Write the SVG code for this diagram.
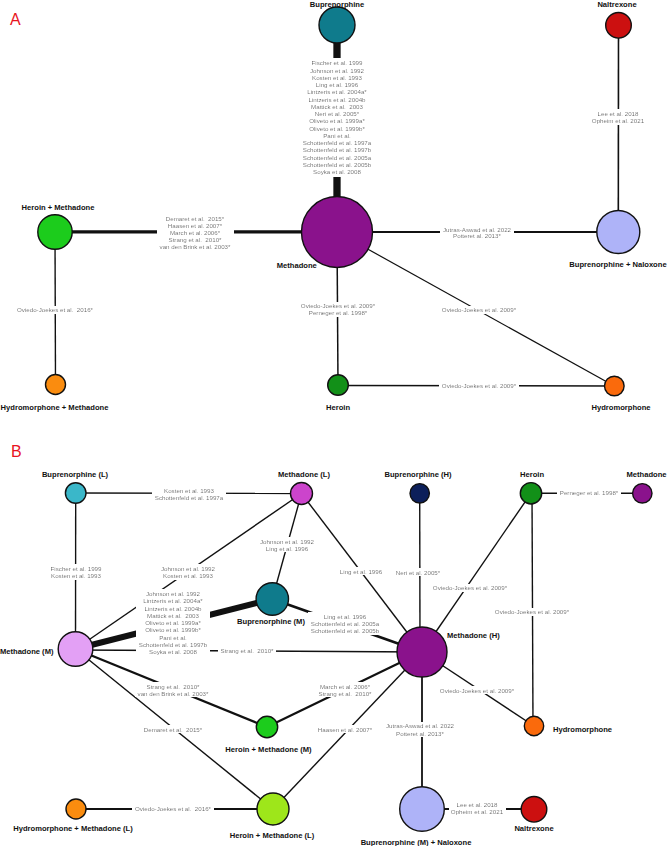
<svg xmlns="http://www.w3.org/2000/svg" width="667" height="846" viewBox="0 0 667 846">
<style>
.nl{font-family:"Liberation Sans",Arial,sans-serif;font-weight:bold;font-size:7.6px;fill:#111;text-anchor:middle}
.cl{font-family:"Liberation Sans",Arial,sans-serif;font-size:6.2px;fill:#000;text-anchor:middle;white-space:pre}
.pl{font-family:"Liberation Sans",Arial,sans-serif;font-size:16px;fill:#e8141e}
.n{stroke:#111;stroke-width:1.4}
#connectors line{stroke:#111;fill:none}
</style>
<defs>
<filter id="bg" x="-0.03" y="-0.01" width="1.06" height="1.02">
<feFlood flood-color="#ffffff"/>
<feMerge><feMergeNode/><feMergeNode in="SourceGraphic"/></feMerge>
</filter>
</defs>
<rect width="667" height="846" fill="#ffffff"/>
<text class="pl" x="10" y="25">A</text>
<text class="pl" x="11" y="457">B</text>

<g id="connectors">
<!-- Panel A -->
<line x1="337" y1="25" x2="337" y2="232" stroke-width="7.3"/>
<line x1="618.5" y1="25" x2="618.3" y2="232" stroke-width="1.6"/>
<line x1="55" y1="231.8" x2="337" y2="231.8" stroke-width="3.3"/>
<line x1="337" y1="232" x2="618.3" y2="232" stroke-width="2"/>
<line x1="55" y1="232" x2="55.5" y2="384.5" stroke-width="1.4"/>
<line x1="337" y1="232" x2="338" y2="385" stroke-width="1.5"/>
<line x1="337" y1="232" x2="614.3" y2="386" stroke-width="1.2"/>
<line x1="338" y1="385.5" x2="614.3" y2="386" stroke-width="1.4"/>
<!-- Panel B -->
<line x1="75.7" y1="493" x2="301.5" y2="493.5" stroke-width="1.4"/>
<line x1="75.7" y1="493" x2="75.5" y2="649" stroke-width="1.4"/>
<line x1="301.5" y1="493.5" x2="272.3" y2="599" stroke-width="1.4"/>
<line x1="301.5" y1="493.5" x2="75.5" y2="649" stroke-width="1.4"/>
<line x1="301.5" y1="493.5" x2="422" y2="652" stroke-width="1.4"/>
<line x1="419.7" y1="493.3" x2="420" y2="652" stroke-width="1.4"/>
<line x1="531" y1="493.3" x2="642.3" y2="493.3" stroke-width="1.4"/>
<line x1="531" y1="493.3" x2="422" y2="652" stroke-width="1.4"/>
<line x1="532" y1="493.3" x2="533" y2="726" stroke-width="1.4"/>
<line x1="272.3" y1="599" x2="75.5" y2="649" stroke-width="6"/>
<line x1="272.3" y1="599" x2="422" y2="652" stroke-width="2.6"/>
<line x1="75.5" y1="650" x2="422" y2="652" stroke-width="1.4"/>
<line x1="75.5" y1="649" x2="267" y2="727" stroke-width="2.2"/>
<line x1="267" y1="727" x2="422" y2="652" stroke-width="2.2"/>
<line x1="75.5" y1="649" x2="273" y2="809" stroke-width="1.4"/>
<line x1="273" y1="809" x2="422" y2="652" stroke-width="1.4"/>
<line x1="422" y1="652" x2="534" y2="726" stroke-width="1.4"/>
<line x1="422" y1="652" x2="422" y2="809" stroke-width="1.8"/>
<line x1="422" y1="809" x2="534" y2="809" stroke-width="2"/>
<line x1="76" y1="809" x2="273" y2="809" stroke-width="1.8"/>

<!-- Edge labels A -->
<g filter="url(#bg)">
<text class="cl" x="337" y="65.2">Fischer et al. 1999</text>
<text class="cl" x="337" y="72.5">Johnson et al. 1992</text>
<text class="cl" x="337" y="79.7">Kosten et al. 1993</text>
<text class="cl" x="337" y="87">Ling et al. 1996</text>
<text class="cl" x="337" y="94.3">Lintzeris et al. 2004a*</text>
<text class="cl" x="337" y="101.5">Lintzeris et al. 2004b</text>
<text class="cl" x="337" y="108.8" xml:space="preserve">Mattick et al.  2003</text>
<text class="cl" x="337" y="116.1">Neri et al. 2005*</text>
<text class="cl" x="337" y="123.4">Oliveto et al. 1999a*</text>
<text class="cl" x="337" y="130.6">Oliveto et al. 1999b*</text>
<text class="cl" x="337" y="137.9">Pani et al.</text>
<text class="cl" x="337" y="145.2">Schottenfeld et al. 1997a</text>
<text class="cl" x="337" y="152.4">Schottenfeld et al. 1997b</text>
<text class="cl" x="337" y="159.7">Schottenfeld et al. 2005a</text>
<text class="cl" x="337" y="167">Schottenfeld et al. 2005b</text>
<text class="cl" x="337" y="174.3">Soyka et al. 2008</text>
</g>
<g filter="url(#bg)">
<text class="cl" x="618" y="115.5">Lee et al. 2018</text>
<text class="cl" x="618" y="123">Opheim et al. 2021</text>
</g>
<g filter="url(#bg)">
<text class="cl" x="195" y="220.5" xml:space="preserve">Demaret et al.  2015*</text>
<text class="cl" x="195" y="227.5">Haasen et al. 2007*</text>
<text class="cl" x="195" y="234.6">March et al. 2006*</text>
<text class="cl" x="195" y="241.7" xml:space="preserve">Strang et al.  2010*</text>
<text class="cl" x="195" y="249">van den Brink et al. 2003*</text>
</g>
<g filter="url(#bg)">
<text class="cl" x="477" y="231.5">Jutras-Aswad et al. 2022</text>
<text class="cl" x="477" y="238.3">Potteret al. 2013*</text>
</g>
<g filter="url(#bg)">
<text class="cl" x="55" y="312.2" xml:space="preserve">Oviedo-Joekes et al.  2016*</text>
</g>
<g filter="url(#bg)">
<text class="cl" x="338" y="308.2">Oviedo-Joekes et al. 2009*</text>
<text class="cl" x="338" y="315.3">Perneger et al. 1998*</text>
</g>
<g filter="url(#bg)">
<text class="cl" x="479" y="312.4">Oviedo-Joekes et al. 2009*</text>
</g>
<g filter="url(#bg)">
<text class="cl" x="479" y="388">Oviedo-Joekes et al. 2009*</text>
</g>

<!-- Edge labels B -->
<g filter="url(#bg)">
<text class="cl" x="189" y="492.9">Kosten et al. 1993</text>
<text class="cl" x="189" y="499.9">Schottenfeld et al. 1997a</text>
</g>
<g filter="url(#bg)">
<text class="cl" x="76" y="570.9">Fischer et al. 1999</text>
<text class="cl" x="76" y="578.2">Kosten et al. 1993</text>
</g>
<g filter="url(#bg)">
<text class="cl" x="287" y="543.9">Johnson et al. 1992</text>
<text class="cl" x="287" y="550.6">Ling et al. 1996</text>
</g>
<g filter="url(#bg)">
<text class="cl" x="188" y="570.9">Johnson et al. 1992</text>
<text class="cl" x="188" y="578.2">Kosten et al. 1993</text>
</g>
<g filter="url(#bg)">
<text class="cl" x="361" y="573.5">Ling et al. 1996</text>
</g>
<g filter="url(#bg)">
<text class="cl" x="418" y="574.9">Neri et al. 2005*</text>
</g>
<g filter="url(#bg)">
<text class="cl" x="589" y="495.2">Perneger et al. 1998*</text>
</g>
<g filter="url(#bg)">
<text class="cl" x="470" y="590.2">Oviedo-Joekes et al. 2009*</text>
</g>
<g filter="url(#bg)">
<text class="cl" x="532" y="614.2">Oviedo-Joekes et al. 2009*</text>
</g>
<g filter="url(#bg)">
<text class="cl" x="173" y="596.2">Johnson et al. 1992</text>
<text class="cl" x="173" y="603.4">Lintzeris et al. 2004a*</text>
<text class="cl" x="173" y="610.7">Lintzeris et al. 2004b</text>
<text class="cl" x="173" y="617.9" xml:space="preserve">Mattick et al.  2003</text>
<text class="cl" x="173" y="625.2">Oliveto et al. 1999a*</text>
<text class="cl" x="173" y="632.4">Oliveto et al. 1999b*</text>
<text class="cl" x="173" y="639.7">Pani et al.</text>
<text class="cl" x="173" y="646.9">Schottenfeld et al. 1997b</text>
<text class="cl" x="173" y="654.2">Soyka et al. 2008</text>
</g>
<g filter="url(#bg)">
<text class="cl" x="345" y="618.7">Ling et al. 1996</text>
<text class="cl" x="345" y="625.9">Schottenfeld et al. 2005a</text>
<text class="cl" x="345" y="633.2">Schottenfeld et al. 2005b</text>
</g>
<g filter="url(#bg)">
<text class="cl" x="247" y="653" xml:space="preserve">Strang et al.  2010*</text>
</g>
<g filter="url(#bg)">
<text class="cl" x="173" y="688.5" xml:space="preserve">Strang et al.  2010*</text>
<text class="cl" x="173" y="695.5">van den Brink et al. 2003*</text>
</g>
<g filter="url(#bg)">
<text class="cl" x="345" y="688.5">March et al. 2006*</text>
<text class="cl" x="345" y="695.5" xml:space="preserve">Strang et al.  2010*</text>
</g>
<g filter="url(#bg)">
<text class="cl" x="173" y="731.5" xml:space="preserve">Demaret et al.  2015*</text>
</g>
<g filter="url(#bg)">
<text class="cl" x="345" y="731.5">Haasen et al. 2007*</text>
</g>
<g filter="url(#bg)">
<text class="cl" x="477" y="692.5">Oviedo-Joekes et al. 2009*</text>
</g>
<g filter="url(#bg)">
<text class="cl" x="420" y="728.2">Jutras-Aswad et al. 2022</text>
<text class="cl" x="420" y="735.5">Potteret al. 2013*</text>
</g>
<g filter="url(#bg)">
<text class="cl" x="477" y="806.9">Lee et al. 2018</text>
<text class="cl" x="477" y="813.9">Opheim et al. 2021</text>
</g>
<g filter="url(#bg)">
<text class="cl" x="173" y="810.5" xml:space="preserve">Oviedo-Joekes et al.  2016*</text>
</g>
</g>

<!-- Nodes panel A -->
<g id="a-buprenorphine"><circle class="n" cx="337" cy="25" r="18" fill="#0f7b8c"/><text class="nl" x="337" y="6.5">Buprenorphine</text></g>
<g id="a-naltrexone"><circle class="n" cx="618.5" cy="25.3" r="12.8" fill="#cc1010"/><text class="nl" x="617" y="6.5">Naltrexone</text></g>
<g id="a-heroin-methadone"><circle class="n" cx="55" cy="232" r="17.2" fill="#1ccc1c"/><text class="nl" x="58" y="210">Heroin + Methadone</text></g>
<g id="a-methadone"><circle class="n" cx="337" cy="232" r="35.5" fill="#8a128c"/><text class="nl" x="276.7" y="267.5" style="text-anchor:start">Methadone</text></g>
<g id="a-bup-naloxone"><circle class="n" cx="618.3" cy="232" r="21.5" fill="#aeb3f8"/><text class="nl" x="618" y="267">Buprenorphine + Naloxone</text></g>
<g id="a-hydromorphone-methadone"><circle class="n" cx="55.5" cy="384.5" r="10" fill="#fa8c0f"/><text class="nl" x="54.5" y="410">Hydromorphone + Methadone</text></g>
<g id="a-heroin"><circle class="n" cx="338" cy="385" r="10.3" fill="#129018"/><text class="nl" x="338" y="410">Heroin</text></g>
<g id="a-hydromorphone"><circle class="n" cx="614.3" cy="386" r="9.8" fill="#fa6a0c"/><text class="nl" x="621" y="410">Hydromorphone</text></g>

<!-- Nodes panel B -->
<g id="b-buprenorphine-l"><circle class="n" cx="75.7" cy="493" r="10.3" fill="#3ab7c9"/><text class="nl" x="75" y="477">Buprenorphine (L)</text></g>
<g id="b-methadone-l"><circle class="n" cx="301.5" cy="493.5" r="11" fill="#cc44cc"/><text class="nl" x="304" y="477">Methadone (L)</text></g>
<g id="b-buprenorphine-h"><circle class="n" cx="419.7" cy="493.3" r="9.7" fill="#0c1f5a"/><text class="nl" x="418" y="477">Buprenorphine (H)</text></g>
<g id="b-heroin"><circle class="n" cx="531" cy="493.3" r="10.7" fill="#129018"/><text class="nl" x="532" y="477">Heroin</text></g>
<g id="b-methadone"><circle class="n" cx="642.3" cy="493.3" r="9.7" fill="#8a128c"/><text class="nl" x="646.5" y="477">Methadone</text></g>
<g id="b-buprenorphine-m"><circle class="n" cx="272.3" cy="599" r="16.2" fill="#0f7b8c"/><text class="nl" x="271" y="623.5">Buprenorphine (M)</text></g>
<g id="b-methadone-m"><circle class="n" cx="75.5" cy="649" r="17.3" fill="#e3a0f5"/><text class="nl" x="53.5" y="654" style="text-anchor:end">Methadone (M)</text></g>
<g id="b-methadone-h"><circle class="n" cx="422" cy="652" r="25" fill="#8a128c"/><text class="nl" x="447" y="638" style="text-anchor:start">Methadone (H)</text></g>
<g id="b-heroin-methadone-m"><circle class="n" cx="267" cy="727" r="10.7" fill="#1ccc1c"/><text class="nl" x="268.5" y="752">Heroin + Methadone (M)</text></g>
<g id="b-hydromorphone"><circle class="n" cx="534" cy="726" r="9.7" fill="#fa6a0c"/><text class="nl" x="553" y="732" style="text-anchor:start">Hydromorphone</text></g>
<g id="b-hydromorphone-methadone-l"><circle class="n" cx="76" cy="809" r="10" fill="#fa8c0f"/><text class="nl" x="73" y="831">Hydromorphone + Methadone (L)</text></g>
<g id="b-heroin-methadone-l"><circle class="n" cx="273" cy="809" r="16" fill="#9ee61a"/><text class="nl" x="272" y="838">Heroin + Methadone (L)</text></g>
<g id="b-bup-m-naloxone"><circle class="n" cx="422" cy="809" r="22.3" fill="#aeb3f8"/><text class="nl" x="416" y="844.5">Buprenorphine (M) + Naloxone</text></g>
<g id="b-naltrexone"><circle class="n" cx="534" cy="809.3" r="12.8" fill="#cc1010"/><text class="nl" x="534" y="831">Naltrexone</text></g>
</svg>
